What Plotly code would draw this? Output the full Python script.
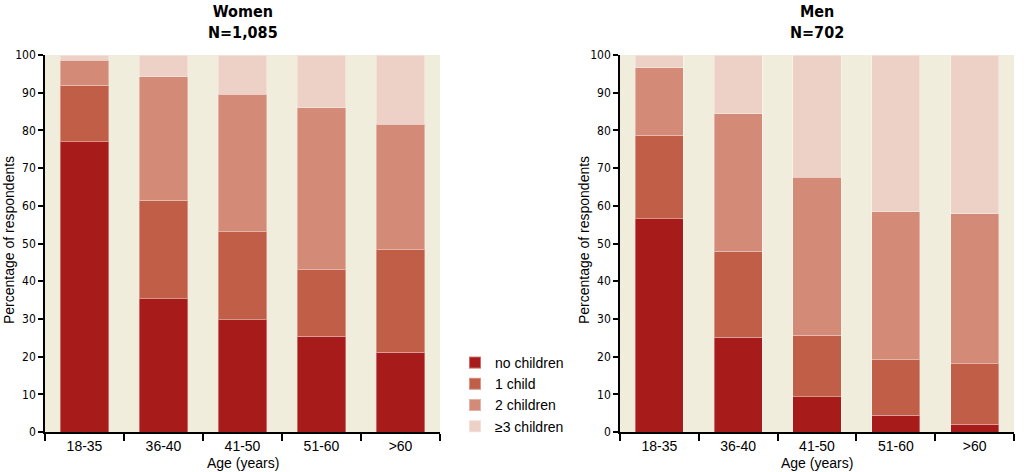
import plotly.graph_objects as go

categories = ["18-35", "36-40", "41-50", "51-60", ">60"]
series_names = ["no children", "1 child", "2 children", "≥3 children"]
colors = ["#A81B1B", "#C05E48", "#D38B77", "#EDD0C6"]

women_no = [77.0, 35.4, 29.8, 25.4, 21.1]
women_one = [15.0, 26.1, 23.3, 17.7, 27.3]
women_two = [6.6, 32.7, 36.5, 42.9, 33.2]
women_three = [1.4, 5.8, 10.4, 14.0, 18.4]

men_no = [56.6, 25.2, 9.4, 4.4, 2.0]
men_one = [22.1, 22.8, 16.2, 14.7, 16.1]
men_two = [17.9, 36.4, 42.0, 39.3, 39.8]
men_three = [3.4, 15.6, 32.4, 41.6, 42.1]

women = [women_no, women_one, women_two, women_three]
men = [men_no, men_one, men_two, men_three]

y_ticks = list(range(0, 101, 10))

fig = go.Figure()
for name, col, vals in zip(series_names, colors, women):
    fig.add_trace(go.Bar(x=categories, y=vals, name=name, marker_color=col,
                         marker_line=dict(color="rgba(255,255,255,0.35)", width=1),
                         xaxis="x", yaxis="y", legendgroup=name, showlegend=True))
for name, col, vals in zip(series_names, colors, men):
    fig.add_trace(go.Bar(x=categories, y=vals, name=name, marker_color=col,
                         marker_line=dict(color="rgba(255,255,255,0.35)", width=1),
                         xaxis="x2", yaxis="y2", legendgroup=name, showlegend=False))

W, H = 1033, 472


def px(x):
    return x / W


def py(y):
    return 1 - y / H


ydom = [py(432), py(55)]
narrow = "Liberation Sans Narrow, DejaVu Sans Condensed, sans-serif"
tickfont_y = dict(family=narrow, size=12, color="black")
tickfont_x = dict(family="Liberation Sans, Arial, sans-serif", size=14, color="black")

xcommon = dict(type="category", tickson="boundaries", ticks="outside", ticklen=7,
               tickcolor="black", tickwidth=1.5, showline=True, linecolor="black",
               linewidth=1.5, showgrid=False, tickfont=tickfont_x, fixedrange=True,
               automargin=False)
ycommon = dict(range=[0, 100], tickvals=y_ticks, ticks="outside", ticklen=5,
               tickcolor="black", tickwidth=1.5, showline=True, linecolor="black",
               linewidth=1.5, showgrid=False, zeroline=False, tickfont=tickfont_y,
               automargin=False)

fig.update_layout(
    template="none",
    width=W, height=H,
    margin=dict(l=0, r=0, t=0, b=0, pad=0),
    paper_bgcolor="white",
    plot_bgcolor="#F1EDDC",
    barmode="stack",
    bargap=0.39,
    xaxis=dict(domain=[px(45), px(440)], anchor="y", **xcommon),
    yaxis=dict(domain=ydom, anchor="x", **ycommon),
    xaxis2=dict(domain=[px(620), px(1014)], anchor="y2", **xcommon),
    yaxis2=dict(domain=ydom, anchor="x2", **ycommon),
    legend=dict(x=px(455), y=py(347), xanchor="left", yanchor="top",
                font=dict(family="Liberation Sans, Arial, sans-serif", size=14, color="black"),
                bgcolor="rgba(0,0,0,0)", traceorder="normal", tracegroupgap=0,
                itemsizing="constant"),
    showlegend=True,
)

title_font = dict(family=narrow, size=16, color="black")
label_font = dict(family="Liberation Sans, Arial, sans-serif", size=14, color="black")
ann = [
    dict(text="<b>Women</b><br><b>N=1,085</b>", x=px(243), y=py(0), xref="paper", yref="paper",
         xanchor="center", yanchor="top", showarrow=False, font=title_font),
    dict(text="<b>Men</b><br><b>N=702</b>", x=px(817), y=py(0), xref="paper", yref="paper",
         xanchor="center", yanchor="top", showarrow=False, font=title_font),
    dict(text="Age (years)", x=px(243), y=py(463), xref="paper", yref="paper",
         xanchor="center", yanchor="middle", showarrow=False, font=label_font),
    dict(text="Age (years)", x=px(817), y=py(463), xref="paper", yref="paper",
         xanchor="center", yanchor="middle", showarrow=False, font=label_font),
    dict(text="Percentage of respondents", x=px(9), y=py(240), xref="paper", yref="paper",
         xanchor="center", yanchor="middle", textangle=-90, showarrow=False, font=label_font),
    dict(text="Percentage of respondents", x=px(584), y=py(240), xref="paper", yref="paper",
         xanchor="center", yanchor="middle", textangle=-90, showarrow=False, font=label_font),
]
fig.update_layout(annotations=ann)

fig.write_html("out.html",
               config={"displayModeBar": False},
               post_script="document.body.style.margin='0';document.body.style.overflow='hidden';")
